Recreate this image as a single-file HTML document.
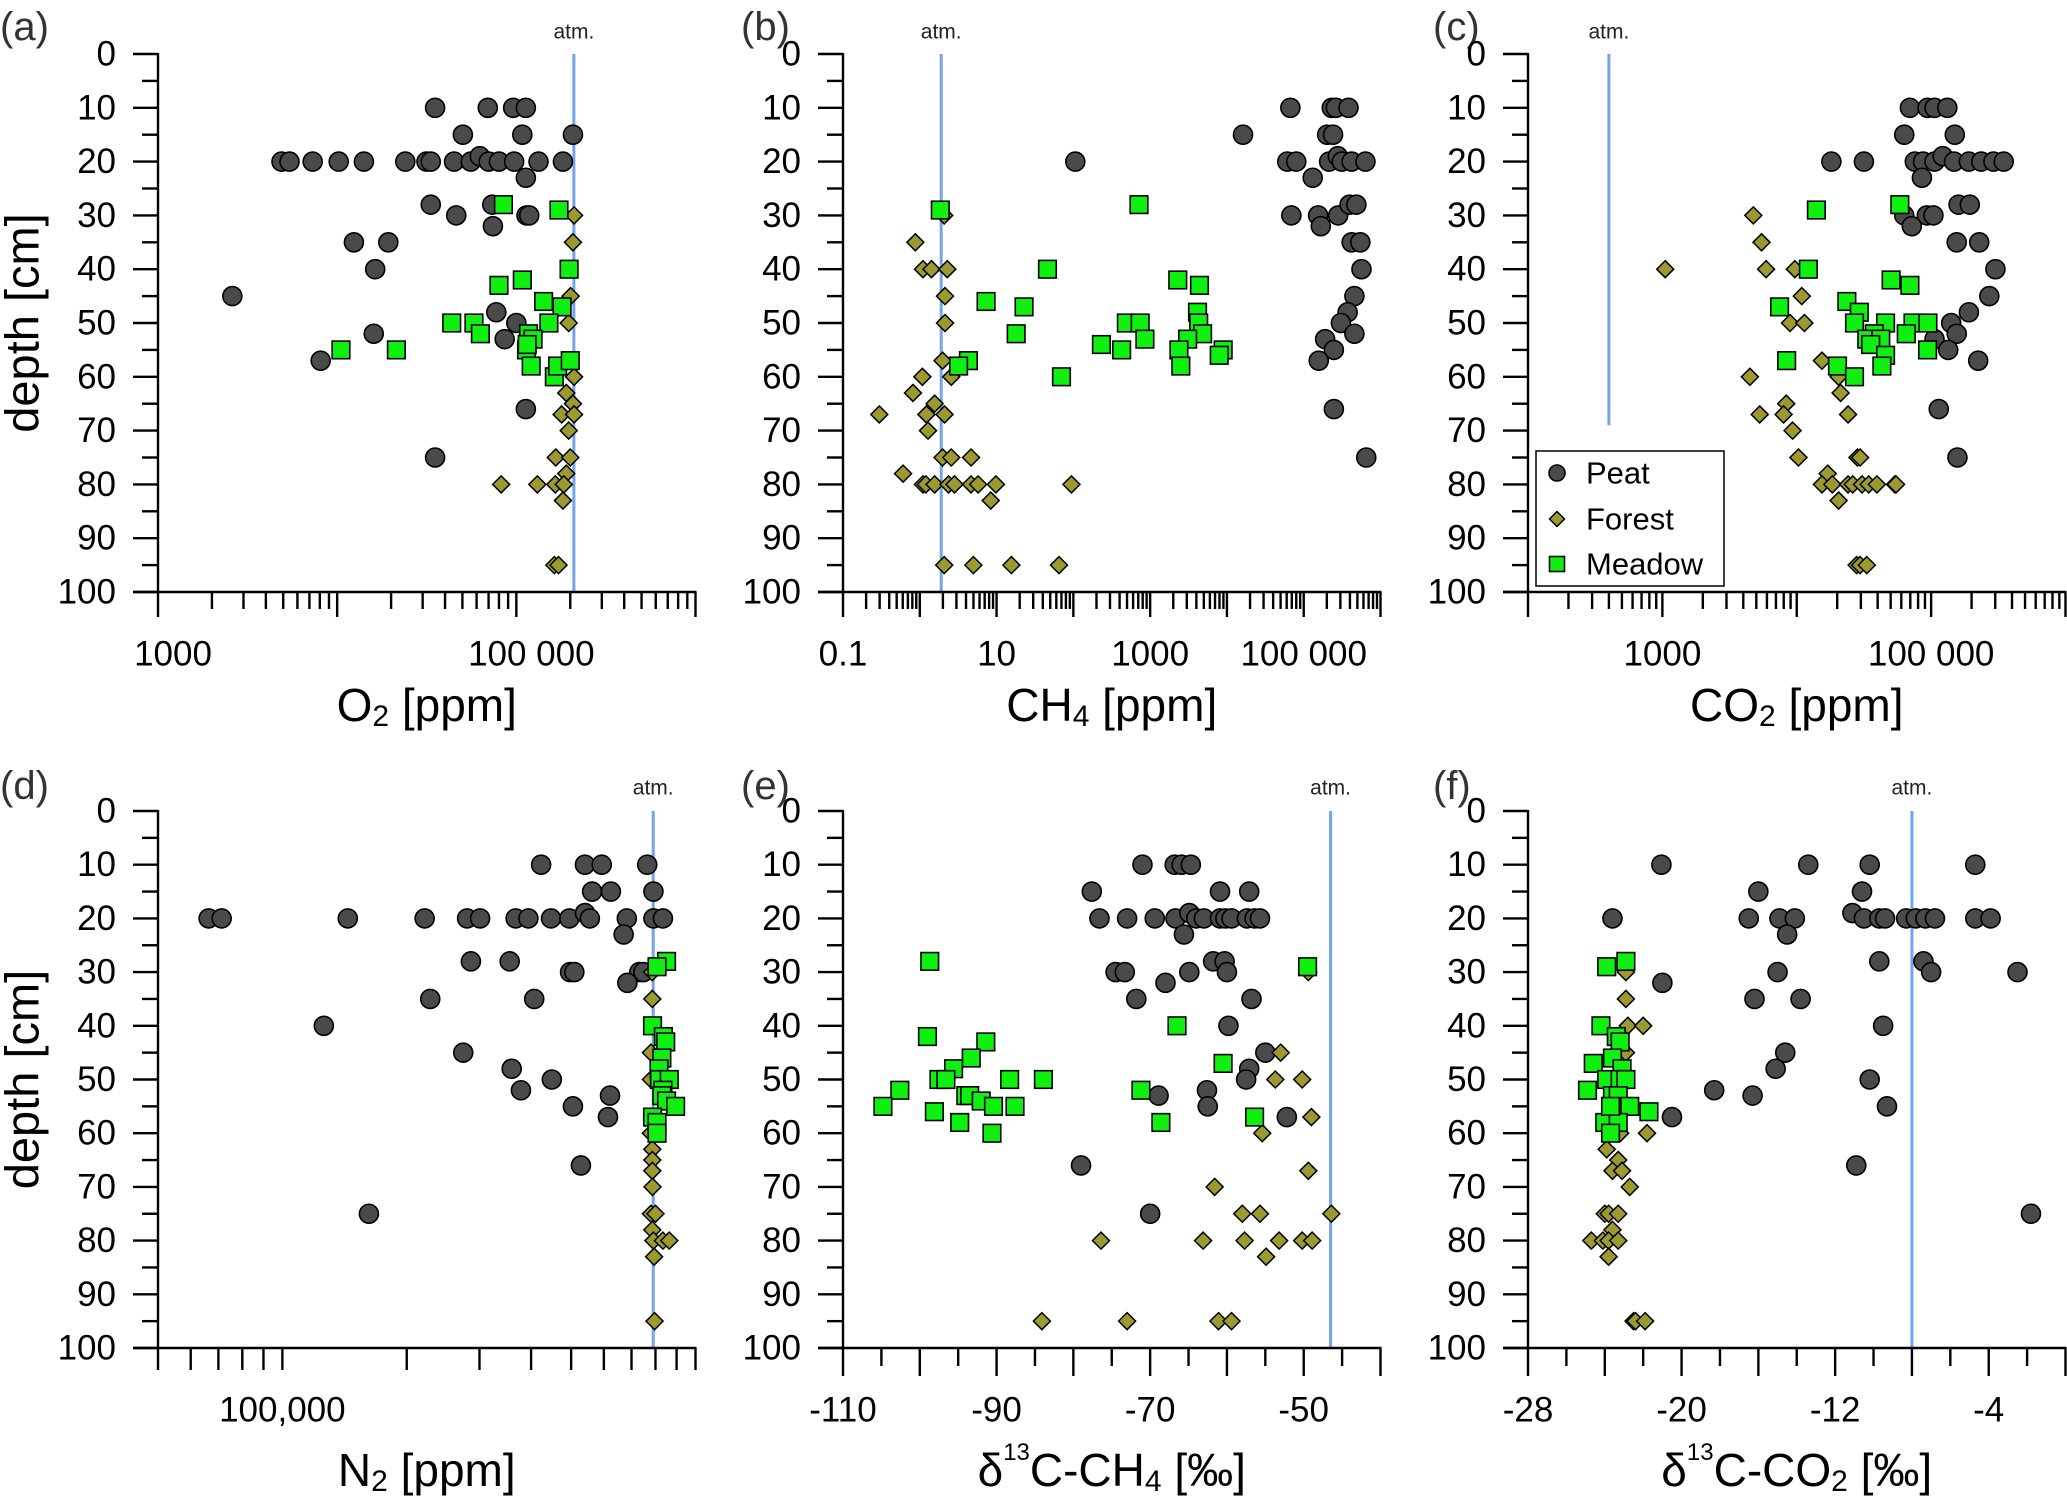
<!DOCTYPE html>
<html><head><meta charset="utf-8">
<style>
html,body{margin:0;padding:0;background:#fff;}
svg{display:block;font-family:"Liberation Sans",Arial,sans-serif;}
</style></head>
<body>
<svg id="fig" width="2067" height="1497" viewBox="0 0 2067 1497" xmlns="http://www.w3.org/2000/svg"></svg>
<script>
// ---- data (value, depth cm) ----
const aPeatX=[35200,69300,96000,113000,50300,108000,207000,4890,5420,7300,10200,14100,24000,31500,33300,44900,55700,62500,70100,80000,97200,133000,182000,113000,33300,73400,46200,114000,118000,74000,12400,19300,16300,2600,77300,100000,86100,16000,8090,113000,35200];
const aPeatD=[10,10,10,10,15,15,15,20,20,20,20,20,20,20,20,20,20,19,20,20,20,20,20,23,28,28,30,30,30,32,35,35,40,45,48,50,53,52,57,66,75];
const aMeadowX=[84700,173000,197000,80000,108000,142000,180000,43600,58000,63000,152000,117000,124000,114000,121000,163000,170000,200000,10500,21400,115000];
const aMeadowD=[28,29,40,43,42,46,47,50,50,52,50,52,53,55,58,60,58,57,55,55,54];
const aForestX=[210000,207000,201000,196000,210000,190000,207000,179000,210000,196000,166000,200000,190000,82300,131000,165000,184000,182000,163000,172000];
const aForestD=[30,35,45,50,60,63,65,67,67,70,75,75,78,80,80,80,80,83,95,95];

const bPeatX=[67000,232000,262000,383000,16200,202000,241000,106,61000,80000,214000,278000,313000,421000,637000,131000,69000,154000,281000,167000,396000,485000,421000,546000,565000,457000,373000,305000,457000,190000,247000,157000,247000,652000];
const bPeatD=[10,10,10,10,15,15,15,20,20,20,20,19,20,20,20,23,30,30,30,32,28,28,35,35,40,45,48,50,52,53,55,57,66,75];
const bMeadowX=[1.85,716,46,7.3,22.8,18,4.3,3.2,70,2290,4390,4140,4290,4820,3080,2370,2510,8930,7940,490,742,855,232,425];
const bMeadowD=[29,28,40,46,47,52,57,58,60,42,43,48,50,52,53,55,58,55,56,50,50,53,54,55];
const bForestX=[2.08,0.875,1.1,1.42,2.28,2.13,2.13,1.98,2.57,1.08,0.815,1.56,1.22,2.1,0.297,1.28,1.98,2.57,4.65,0.606,1.1,1.2,1.56,2.37,2.83,4.65,5.75,9.8,94.4,8.4,2.08,4.99,15.6,65];
const bForestD=[30,35,40,40,40,45,50,57,60,60,63,65,67,67,67,70,75,75,75,78,80,80,80,80,80,80,80,80,80,83,95,95,95,95];

const cPeatX=[69500,94000,106000,132000,63100,150000,18100,31600,75600,87100,106000,122000,148000,191000,236000,291000,347000,85400,160000,194000,63100,92900,104000,71800,155000,228000,301000,271000,191000,141000,155000,106000,134000,224000,114000,157000];
const cPeatD=[10,10,10,10,15,15,20,20,20,20,20,19,20,20,20,20,20,23,28,28,30,30,30,32,35,35,40,45,48,50,52,53,55,57,66,75];
const cMeadowX=[14000,58500,12200,7450,8410,50400,69500,23600,29200,26900,45800,73300,94700,65300,37800,33200,42200,35500,45800,94100,20100,26900,43000];
const cMeadowD=[29,28,40,47,57,42,43,46,48,50,50,50,50,52,52,53,53,54,56,55,58,60,58];
const cForestX=[4750,5470,1050,5910,9680,10900,8910,11400,15400,4480,20500,21200,8350,5300,7980,24100,9310,10300,28300,29600,17000,15400,18400,24100,26100,30600,34300,39500,53800,54800,20500,27900,29600,33200];
const cForestD=[30,35,40,40,40,45,50,50,57,60,60,63,65,67,67,67,70,75,75,75,78,80,80,80,80,80,80,80,80,80,83,95,95,95];

const dPeatX=[423000,540000,593000,764000,562000,624000,791000,66300,71300,144000,221000,280000,301000,367000,394000,447000,495000,540000,555000,682000,791000,834000,670000,286000,355000,497000,509000,731000,748000,684000,228000,407000,126000,274000,359000,449000,378000,621000,505000,614000,528000,162000];
const dPeatD=[10,10,10,10,15,15,15,20,20,20,20,20,20,20,20,20,20,19,20,20,20,20,23,28,28,30,30,30,30,32,35,35,40,45,48,50,52,53,55,57,66,75];
const dMeadowX=[851000,807000,787000,836000,847000,829000,816000,818000,864000,834000,829000,851000,895000,787000,807000,807000];
const dMeadowD=[28,29,40,42,43,46,48,50,50,52,53,54,55,57,58,60];
const dForestX=[786000,786000,780000,780000,780000,786000,786000,786000,787000,780000,800000,786000,791000,834000,864000,794000,796000];
const dForestD=[30,35,45,50,60,63,65,67,70,75,75,78,80,80,80,83,95];

const ePeatX=[-71.0,-66.8,-65.9,-64.7,-77.6,-60.9,-57.1,-76.6,-73.0,-69.4,-66.7,-64.9,-64.0,-63.0,-60.9,-60.2,-59.4,-57.4,-56.4,-55.7,-65.6,-61.8,-60.3,-74.5,-73.3,-64.9,-60.0,-68.0,-71.8,-56.8,-59.8,-55.0,-57.1,-57.5,-62.6,-68.9,-62.5,-52.2,-79.0,-70.0];
const ePeatD=[10,10,10,10,15,15,15,20,20,20,20,19,20,20,20,20,20,20,20,20,23,28,28,30,30,30,30,32,35,35,40,45,48,50,52,53,55,57,66,75];
const eMeadowX=[-98.7,-99.0,-91.4,-93.3,-95.6,-97.5,-96.6,-88.3,-83.9,-102.6,-104.8,-94.0,-93.5,-92.0,-90.4,-87.6,-98.1,-94.8,-90.6,-49.5,-66.5,-60.5,-71.2,-68.6,-56.4];
const eMeadowD=[28,42,43,46,48,50,50,50,50,52,55,53,53,54,55,55,56,58,60,29,40,47,52,58,57];
const eForestX=[-49.4,-53.0,-53.7,-50.2,-49.0,-55.4,-49.4,-61.6,-58.0,-55.7,-46.4,-76.4,-63.1,-57.7,-53.2,-50.2,-48.9,-54.9,-84.1,-73.0,-61.1,-59.4];
const eForestD=[30,45,50,50,57,60,67,70,75,75,75,80,80,80,80,80,80,83,95,95,95,95];

const fPeatX=[-21.05,-13.4,-10.2,-4.7,-16.0,-10.6,-23.6,-16.5,-14.9,-14.1,-11.1,-10.5,-9.7,-9.4,-8.3,-7.8,-7.3,-6.8,-4.7,-3.9,-14.5,-9.7,-7.4,-7.0,-2.5,-15.0,-21.0,-16.2,-13.8,-9.5,-14.6,-15.1,-10.2,-18.3,-16.3,-9.3,-20.5,-10.9,-1.8];
const fPeatD=[10,10,10,10,15,15,20,20,20,20,19,20,20,20,20,20,20,20,20,20,23,28,28,30,30,30,32,35,35,40,45,48,50,52,53,55,57,66,75];
const fMeadowX=[-22.9,-23.9,-24.2,-23.4,-23.2,-23.6,-24.6,-23.1,-23.9,-23.2,-22.9,-24.9,-23.6,-23.3,-22.7,-21.7,-24.0,-23.3,-23.7,-23.7];
const fMeadowD=[28,29,40,42,43,46,47,48,50,50,50,52,53,53,55,56,58,58,60,55];
const fForestX=[-22.9,-22.9,-22.8,-22.0,-22.9,-23.2,-23.2,-21.8,-23.9,-23.3,-23.6,-23.1,-22.7,-24.0,-23.8,-23.3,-23.6,-24.7,-24.1,-23.8,-23.3,-23.8,-22.5,-22.4,-21.9];
const fForestD=[30,35,40,40,45,50,60,60,63,65,67,67,70,75,75,75,78,80,80,80,80,83,95,95,95];

const atmValues=[209500,1.9,400,790000,-46.5,-8];
const depthTicks=[0,10,20,30,40,50,60,70,80,90,100];
const xTickLabelsA=[[1000,"1000"],[100000,"100 000"]];
const xTickLabelsB=[[0.1,"0.1"],[10,"10"],[1000,"1000"],[100000,"100 000"]];
const xTickLabelsC=[[1000,"1000"],[100000,"100 000"]];
const xTickLabelsD=[[100000,"100,000"]];
const xTickLabelsE=[[-110,"-110"],[-90,"-90"],[-70,"-70"],[-50,"-50"]];
const xTickLabelsF=[[-28,"-28"],[-20,"-20"],[-12,"-12"],[-4,"-4"]];

// ---- drawing ----
const NS="http://www.w3.org/2000/svg";
const svg=document.getElementById('fig');
function mk(tag,attrs,parent){const e=document.createElementNS(NS,tag);for(const k in attrs)e.setAttribute(k,attrs[k]);(parent||svg).appendChild(e);return e;}
const colL=[158,843,1528],W=537.5,rowT=[54,811],rowB=[592,1348];
const panelLabelX=[0,741,1433];
const C_PEAT="#4a4a4a",C_FOR="#9a9a30",C_MEA="#10f010",C_ATM="#74a3ee";

const panels=[
 {id:'a',col:0,row:0,type:'log',min:1e3,max:1e6,labels:xTickLabelsA,lblShift:15,title:['O','2',' [ppm]'],
  peat:[aPeatX,aPeatD],forest:[aForestX,aForestD],meadow:[aMeadowX,aMeadowD],atm:atmValues[0],atmTo:100},
 {id:'b',col:1,row:0,type:'log',min:0.1,max:1e6,labels:xTickLabelsB,lblShift:0,title:['CH','4',' [ppm]'],
  peat:[bPeatX,bPeatD],forest:[bForestX,bForestD],meadow:[bMeadowX,bMeadowD],atm:atmValues[1],atmTo:100},
 {id:'c',col:2,row:0,type:'log',min:100,max:1e6,labels:xTickLabelsC,lblShift:0,title:['CO','2',' [ppm]'],
  peat:[cPeatX,cPeatD],forest:[cForestX,cForestD],meadow:[cMeadowX,cMeadowD],atm:atmValues[2],atmTo:69,legend:true},
 {id:'d',col:0,row:1,type:'log',min:5e4,max:1e6,labels:xTickLabelsD,lblShift:0,title:['N','2',' [ppm]'],
  peat:[dPeatX,dPeatD],forest:[dForestX,dForestD],meadow:[dMeadowX,dMeadowD],atm:atmValues[3],atmTo:100},
 {id:'e',col:1,row:1,type:'lin',min:-110,max:-40,step:5,major:10,labels:xTickLabelsE,lblShift:0,title:'CH4',
  peat:[ePeatX,ePeatD],forest:[eForestX,eForestD],meadow:[eMeadowX,eMeadowD],atm:atmValues[4],atmTo:100},
 {id:'f',col:2,row:1,type:'lin',min:-28,max:0,step:2,major:4,labels:xTickLabelsF,lblShift:0,title:'CO2',
  peat:[fPeatX,fPeatD],forest:[fForestX,fForestD],meadow:[fMeadowX,fMeadowD],atm:atmValues[5],atmTo:100}
];

function circle(g,x,y,r){return mk('circle',{cx:x,cy:y,r:r,fill:C_PEAT,stroke:'#000','stroke-width':1.6},g);}
function diamond(g,x,y,h){return mk('polygon',{points:`${x},${y-h} ${x+h},${y} ${x},${y+h} ${x-h},${y}`,fill:C_FOR,stroke:'#000','stroke-width':1.5},g);}
function square(g,x,y,h){return mk('rect',{x:x-h,y:y-h,width:2*h,height:2*h,fill:C_MEA,stroke:'#000','stroke-width':1.6},g);}

panels.forEach(P=>{
  const L=colL[P.col],R=L+W,T=rowT[P.row],B=rowB[P.row];
  const xs = P.type==='log'
    ? v=>L+(Math.log10(v)-Math.log10(P.min))/(Math.log10(P.max)-Math.log10(P.min))*W
    : v=>L+(v-P.min)/(P.max-P.min)*W;
  const ys = d=>T+d/100*(B-T);
  const g=mk('g',{});
  
  

  const pl=mk('text',{x:panelLabelX[P.col],y:(P.row?786:27),'font-size':40,fill:'#333','dominant-baseline':'central'},g);
  pl.textContent='('+P.id+')';
  
  

  const ax=xs(P.atm);
  const al=mk('line',{x1:ax,x2:ax,y1:T,y2:ys(P.atmTo),stroke:C_ATM,'stroke-width':3},g);
  
  
  const at=mk('text',{x:ax,y:(P.row?788:32),'font-size':21,fill:'#222','text-anchor':'middle','dominant-baseline':'central'},g);
  at.textContent='atm.';
  
  

  const axg=mk('g',{stroke:'#000','stroke-width':2.4,fill:'none'},g);
  
  
  mk('line',{x1:L,x2:L,y1:T-1,y2:B},axg);
  mk('line',{x1:L-25,x2:R+1,y1:B,y2:B},axg);
  for(let d=0;d<=100;d+=5){
    const len=(d%10===0)?25:16;
    mk('line',{x1:L-len,x2:L,y1:ys(d),y2:ys(d)},axg);
  }
  depthTicks.forEach(d=>{
    const t=mk('text',{x:L-42,y:ys(d),'font-size':35,fill:'#000',stroke:'none','text-anchor':'end','dominant-baseline':'central'},g);
    t.textContent=String(d);
    
    
  });
  if(P.type==='log'){
    const e0=Math.floor(Math.log10(P.min)+1e-9),e1=Math.ceil(Math.log10(P.max)-1e-9);
    for(let e=e0;e<=e1;e++){
      for(let m=1;m<10;m++){
        const v=m*Math.pow(10,e);
        if(v<P.min*0.999||v>P.max*1.001)continue;
        const isMaj=(m===1);
        const len=(P.id==='d')?22:(isMaj?25:17);
        const x=xs(v);
        mk('line',{x1:x,x2:x,y1:B,y2:B+len},axg);
      }
    }
  } else {
    for(let v=P.min;v<=P.max+1e-9;v+=P.step){
      const isMaj=Math.abs(((v-P.min)%P.major))<1e-6;
      const x=xs(v);
      mk('line',{x1:x,x2:x,y1:B,y2:B+(isMaj?28:18)},axg);
    }
  }
  P.labels.forEach(([v,s])=>{
    const t=mk('text',{x:xs(v)+P.lblShift,y:B+62,'font-size':35,fill:'#000','text-anchor':'middle','dominant-baseline':'central'},g);
    t.textContent=s;
    
    
  });

  const cx=(L+R)/2, ty=B+(P.row?122:113);
  const xt=mk('text',{x:cx,y:ty,'font-size':46,fill:'#000','text-anchor':'middle','dominant-baseline':'central'},g);
  
  
  if(Array.isArray(P.title)){
    xt.appendChild(document.createTextNode(P.title[0]));
    const s=mk('tspan',{'font-size':30,dy:11},xt);s.textContent=P.title[1];
    const r=mk('tspan',{dy:-11},xt);r.textContent=P.title[2];
  } else {
    const s1=mk('tspan',{},xt);s1.textContent='δ';
    const s2=mk('tspan',{'font-size':24,dy:-18},xt);s2.textContent='13';
    const s3=mk('tspan',{dy:18},xt);s3.textContent=P.title==='CH4'?'C-CH':'C-CO';
    const s4=mk('tspan',{'font-size':30,dy:11},xt);s4.textContent=P.title==='CH4'?'4':'2';
    const s5=mk('tspan',{dy:-11},xt);s5.textContent=' [‰]';
  }
  if(P.col===0){
    const yc=(T+B)/2;
    const yt=mk('text',{x:0,y:0,'font-size':47,fill:'#000','text-anchor':'middle','dominant-baseline':'central',transform:`translate(22,${yc}) rotate(-90)`},g);
    yt.textContent='depth [cm]';
    
    
  }

  const gp=mk('g',{},g);
  
  
  P.peat[0].forEach((v,i)=>{const m=circle(gp,xs(v),ys(P.peat[1][i]),9.5);
    
    });
  const gf=mk('g',{},g);
  
  
  P.forest[0].forEach((v,i)=>{const m=diamond(gf,xs(v),ys(P.forest[1][i]),8.5);
    
    });
  const gm=mk('g',{},g);
  
  
  P.meadow[0].forEach((v,i)=>{const m=square(gm,xs(v),ys(P.meadow[1][i]),8.8);
    
    });

  if(P.legend){
    const lg=mk('g',{},g);
    
    
    mk('rect',{x:1536,y:451,width:188,height:135,fill:'#fff',stroke:'#000','stroke-width':1.5},lg);
    const names=['Peat','Forest','Meadow'],yy=[473,519,564];
    names.forEach((n,i)=>{
      let m;
      if(i===0)m=circle(lg,1557,yy[i],8);
      else if(i===1)m=diamond(lg,1557,yy[i],7.5);
      else m=square(lg,1557,yy[i],7.5);
      
      
      const t=mk('text',{x:1586,y:yy[i],'font-size':31,fill:'#000','dominant-baseline':'central'},lg);
      t.textContent=n;
      
      
    });
  }
});
</script>
</body></html>
